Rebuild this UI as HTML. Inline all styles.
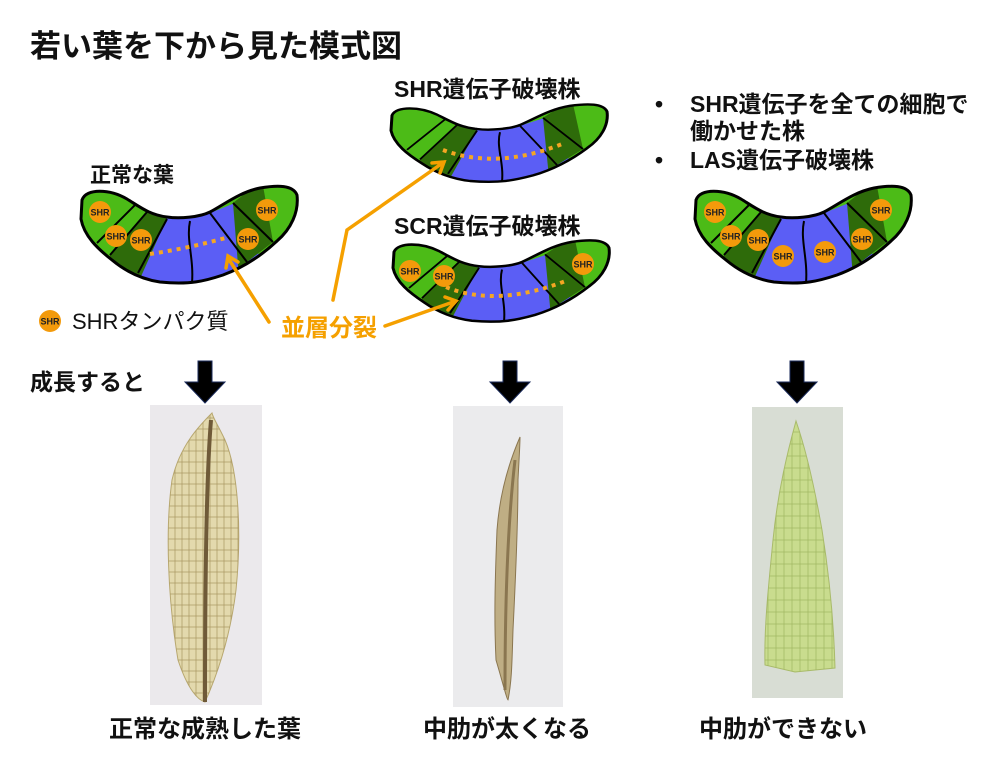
<!DOCTYPE html>
<html><head><meta charset="utf-8"><style>
html,body{margin:0;padding:0;background:#fff;}
svg{display:block;}
text{font-family:"Liberation Sans","Noto Sans CJK JP",sans-serif;}
.b{font-weight:bold;}
</style></head><body>
<svg width="1000" height="769" viewBox="0 0 1000 769" xmlns="http://www.w3.org/2000/svg">
<defs>
  <clipPath id="cp"><path id="outl" d="M82,200 C86,188 110,189 127,199 C140,207 150,215 167,217 C180,219 200,217 210,212 C225,204 240,192 260,188 C278,185 293,185 297,195 C299,212 291,229 277,241 C262,255 245,267 223,275 C205,281 190,285 160,282 C140,279 124,270 112,260 C98,249 84,236 81,219 Z"/></clipPath>
  <pattern id="cells" width="7" height="11" patternUnits="userSpaceOnUse"><rect width="7" height="11" fill="none" stroke="#a89660" stroke-width="0.7"/></pattern>
  <pattern id="cellsg" width="8" height="12" patternUnits="userSpaceOnUse"><rect width="8" height="12" fill="none" stroke="#9fb760" stroke-width="0.7"/></pattern>
  <g id="leaf">
    <g clip-path="url(#cp)">
      <rect x="70" y="180" width="240" height="110" fill="#4cbb17"/>
      <polygon points="147,212 170,212 136,290 100,290 110,255" fill="#2e6b0a"/>
      <polygon points="167,218 210,213 235,203 275,290 135,290" fill="#5b5ef5"/>
      <polygon points="233,203 262,180 310,245 273,242 247,262 240,290" fill="#2e6b0a"/>
      <polygon points="262,180 310,180 310,250 273,242" fill="#4cbb17"/>
      <path d="M147,212 L110,255 M135,205 L97,243 M167,219 L138,273 M190,221 C186,240 194,258 192,283 M210,213 L247,262 M233,203 L273,242" stroke="#000" stroke-width="2" fill="none"/>
    </g>
    <use href="#outl" fill="none" stroke="#000" stroke-width="3"/>
  </g>
  <g id="shr"><circle r="11" fill="#f39a0b"/><text y="3.5" text-anchor="middle" font-size="9" class="b" fill="#222">SHR</text></g>
</defs>

<text x="30" y="57" font-size="31" class="b" fill="#111">若い葉を下から見た模式図</text>

<text x="90" y="182" font-size="21" class="b" fill="#111">正常な葉</text>
<use href="#leaf"/>
<path d="M150,254 Q190,248 229,237" stroke="#f5a623" stroke-width="4" stroke-dasharray="4,5" fill="none"/>
<use href="#shr" x="100" y="212"/><use href="#shr" x="116" y="236"/><use href="#shr" x="141" y="240"/>
<use href="#shr" x="267" y="210"/><use href="#shr" x="248" y="239"/>

<text x="394" y="97" font-size="23" class="b" fill="#111">SHR遺伝子破壊株</text>
<use href="#leaf" transform="translate(310,105) scale(1,0.8) translate(0,-187)"/>
<path d="M443,150 Q497,170 562,144" stroke="#f5a623" stroke-width="4" stroke-dasharray="4,5" fill="none"/>

<text x="394" y="234" font-size="23" class="b" fill="#111">SCR遺伝子破壊株</text>
<use href="#leaf" transform="translate(312,241) scale(1,0.84) translate(0,-187)"/>
<path d="M446,287 Q497,308 568,280" stroke="#f5a623" stroke-width="4" stroke-dasharray="4,5" fill="none"/>
<use href="#shr" x="410" y="271"/><use href="#shr" x="444" y="276"/><use href="#shr" x="583" y="264"/>

<text x="655" y="112" font-size="23" class="b" fill="#111">•</text>
<text x="690" y="112" font-size="23" class="b" fill="#111">SHR遺伝子を全ての細胞で</text>
<text x="690" y="139" font-size="23" class="b" fill="#111">働かせた株</text>
<text x="655" y="168" font-size="23" class="b" fill="#111">•</text>
<text x="690" y="168" font-size="23" class="b" fill="#111">LAS遺伝子破壊株</text>
<use href="#leaf" transform="translate(614,0)"/>
<use href="#shr" x="715" y="212"/><use href="#shr" x="731" y="236"/><use href="#shr" x="758" y="240"/>
<use href="#shr" x="783" y="256"/><use href="#shr" x="825" y="252"/><use href="#shr" x="881" y="210"/><use href="#shr" x="862" y="239"/>

<use href="#shr" x="50" y="321"/>
<text x="72" y="329" font-size="22" fill="#111">SHRタンパク質</text>

<g stroke="#f5a000" stroke-width="3.5" fill="none" stroke-linecap="round">
  <path d="M269,322 L228,258 M226,268 L228,256 L238,262"/>
  <path d="M333,300 L347,230 L444,162 M432,163 L444,162 L440,173"/>
  <path d="M385,326 L456,301 M445,297 L456,301 L448,310"/>
</g>
<text x="281" y="336" font-size="24" class="b" fill="#f5a000">並層分裂</text>

<text x="30" y="390" font-size="23" class="b" fill="#111">成長すると</text>

<g fill="#000" stroke="#1a2a5a" stroke-width="1">
  <polygon points="198,361 212,361 212,382 225,382 205,403 185,382 198,382"/>
  <polygon points="503,361 517,361 517,382 530,382 510,403 490,382 503,382"/>
  <polygon points="790,361 804,361 804,382 817,382 797,403 777,382 790,382"/>
</g>

<rect x="150" y="405" width="112" height="300" fill="#ebe9ec"/>
<path d="M212,413 C200,425 180,445 172,480 C165,530 168,600 178,660 C188,690 198,700 205,702 C215,680 230,640 236,590 C242,530 238,470 225,440 C218,425 213,418 212,413 Z" fill="#e3d9ad" stroke="#b8a870" stroke-width="1"/>
<path d="M212,413 C200,425 180,445 172,480 C165,530 168,600 178,660 C188,690 198,700 205,702 C215,680 230,640 236,590 C242,530 238,470 225,440 C218,425 213,418 212,413 Z" fill="url(#cells)"/>
<path d="M211,420 C206,480 205,600 205,702" stroke="#6f5a38" stroke-width="4" fill="none"/>
<rect x="453" y="406" width="110" height="301" fill="#ebebed"/>
<path d="M520,437 C510,460 500,490 497,530 C495,580 494,620 496,660 C502,680 507,700 508,700 C512,680 512,660 513,630 C516,570 518,520 518,480 C519,460 520,445 520,437 Z" fill="#bfae84" stroke="#8a7650" stroke-width="1"/>
<path d="M515,460 C508,520 505,600 505,690" stroke="#8a7650" stroke-width="3" fill="none"/>
<rect x="752" y="407" width="91" height="291" fill="#d8ddd4"/>
<path d="M796,421 C788,450 778,490 773,540 C768,590 764,630 765,665 L795,672 L835,668 C834,630 830,580 822,530 C815,490 806,450 796,421 Z" fill="#c9dc8e" stroke="#a9bb6a" stroke-width="1"/>
<path d="M796,421 C788,450 778,490 773,540 C768,590 764,630 765,665 L795,672 L835,668 C834,630 830,580 822,530 C815,490 806,450 796,421 Z" fill="url(#cellsg)"/>

<text x="205" y="737" font-size="24" class="b" fill="#111" text-anchor="middle">正常な成熟した葉</text>
<text x="507" y="737" font-size="24" class="b" fill="#111" text-anchor="middle">中肋が太くなる</text>
<text x="783" y="737" font-size="24" class="b" fill="#111" text-anchor="middle">中肋ができない</text>
</svg>
</body></html>
